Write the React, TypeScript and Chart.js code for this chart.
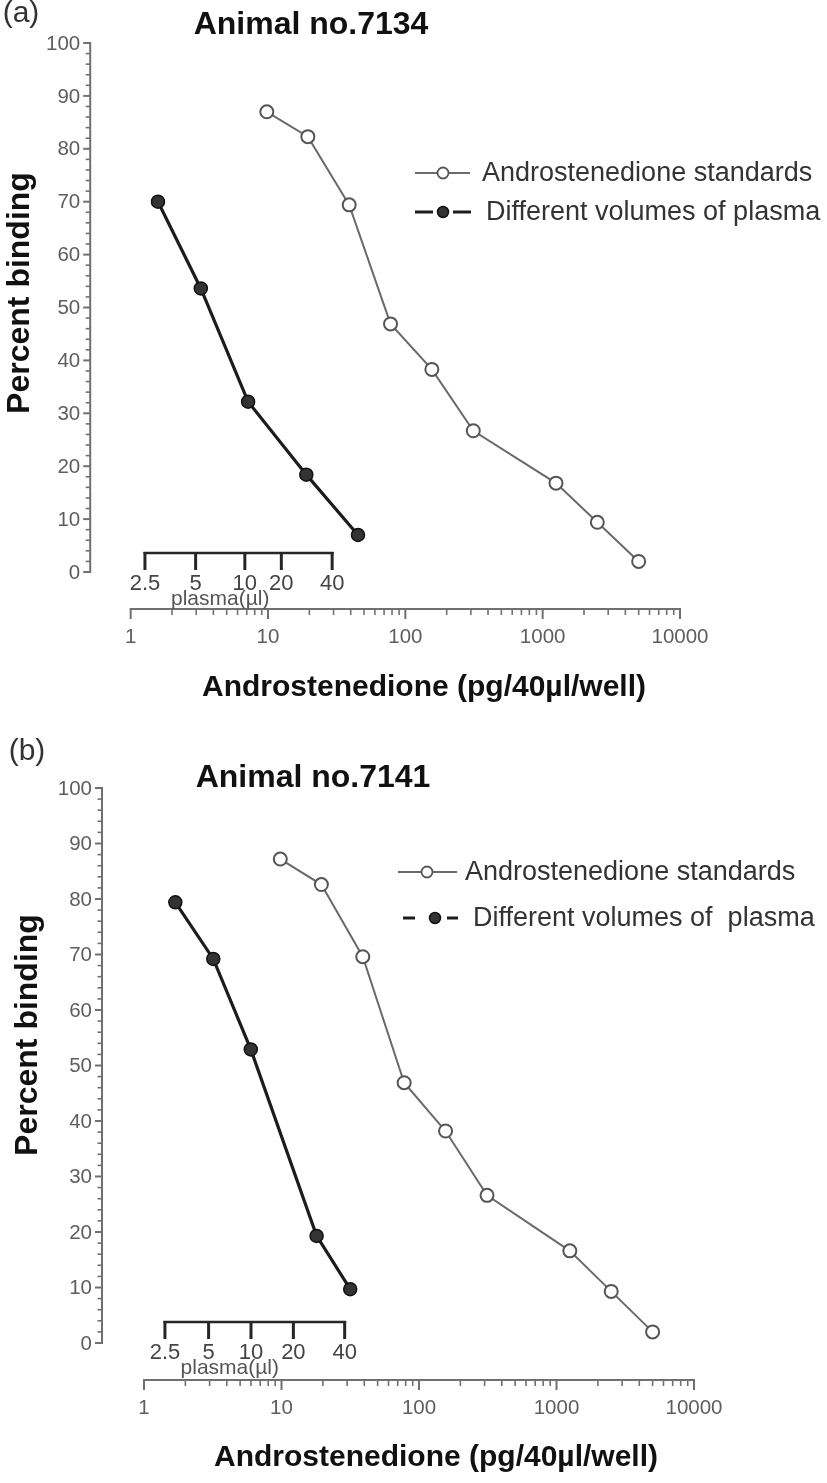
import React, { useEffect, useRef } from "react";
import { Chart, registerables } from "chart.js";

Chart.register(...registerables);

// ---------- panel (a): Animal no.7134 ----------
const standardsConcA = [9.8, 19.5, 39, 78, 156, 312.5, 1250, 2500, 5000];
const standardsBindingA = [87.0, 82.3, 69.4, 46.9, 38.3, 26.7, 16.8, 9.4, 2.0];
const plasmaConcA = [1.58, 3.24, 7.16, 19.0, 45.2];
const plasmaBindingA = [70.0, 53.6, 32.2, 18.4, 7.0];
// where the plasma-volume ticks sit on the concentration axis
const plasmaTickConcA = [1.27, 2.97, 6.78, 12.5, 29.3];

// ---------- panel (b): Animal no.7141 ----------
const standardsConcB = [9.8, 19.5, 39, 78, 156, 312.5, 1250, 2500, 5000];
const standardsBindingB = [87.2, 82.6, 69.6, 46.9, 38.2, 26.6, 16.6, 9.3, 2.0];
const plasmaConcB = [1.69, 3.19, 5.98, 18.0, 31.6];
const plasmaBindingB = [79.4, 69.2, 52.9, 19.3, 9.7];
const plasmaTickConcB = [1.42, 2.95, 6.0, 12.2, 28.8];

// ---------- shared ticks / labels ----------
const plasmaTickLabels = ["2.5", "5", "10", "20", "40"];
const yMajorTicks = [0, 10, 20, 30, 40, 50, 60, 70, 80, 90, 100];
const yMinorStep = 2;
const xMajorTicks = [1, 10, 100, 1000, 10000];
const xTickLabels = ["1", "10", "100", "1000", "10000"];
const standardsLabel = "Androstenedione standards";
const plasmaLabelA = "Different volumes of plasma";
const plasmaLabelB = "Different volumes of  plasma";
const yTitle = "Percent binding";
const xTitle = "Androstenedione (pg/40\u00b5l/well)";
const plasmaAxisTitle = "plasma(\u00b5l)";

const FONT = '"Liberation Sans", Arial, Helvetica, sans-serif';

type PanelCfg = {
  height: number;
  padding: { left: number; right: number; top: number; bottom: number };
  stdX: number[];
  stdY: number[];
  plX: number[];
  plY: number[];
  plasmaTicks: number[];
  plasmaLabel: string;
  title: string;
  tag: string;
  yAxisGap: number;
  xAxisDrop: number;
  plasmaRise: number;
  titlePos: [number, number];
  tagPos: [number, number];
  yTitlePos: [number, number];
  xTitlePos: [number, number];
  legendRows: [number, number];
  legendLine: [number, number];
  legendCircle: [number, number];
  legendSeg2: [number, number, number, number];
  legendText: [number, number];
};

const panelA: PanelCfg = {
  height: 720,
  padding: { left: 130.7, right: 147, top: 43, bottom: 148 },
  stdX: standardsConcA,
  stdY: standardsBindingA,
  plX: plasmaConcA,
  plY: plasmaBindingA,
  plasmaTicks: plasmaTickConcA,
  plasmaLabel: plasmaLabelA,
  title: "Animal no.7134",
  tag: "(a)",
  yAxisGap: 40.5,
  xAxisDrop: 37,
  plasmaRise: 19,
  titlePos: [311, 25],
  tagPos: [21, 14],
  yTitlePos: [20, 293],
  xTitlePos: [424, 688],
  legendRows: [173, 212],
  legendLine: [415, 470],
  legendCircle: [443, 443],
  legendSeg2: [415, 433, 453, 471],
  legendText: [482, 486],
};

const panelB: PanelCfg = {
  height: 763,
  padding: { left: 144, right: 133, top: 68, bottom: 140 },
  stdX: standardsConcB,
  stdY: standardsBindingB,
  plX: plasmaConcB,
  plY: plasmaBindingB,
  plasmaTicks: plasmaTickConcB,
  plasmaLabel: plasmaLabelB,
  title: "Animal no.7141",
  tag: "(b)",
  yAxisGap: 42,
  xAxisDrop: 37,
  plasmaRise: 21,
  titlePos: [313, 58],
  tagPos: [27, 32],
  yTitlePos: [28, 315],
  xTitlePos: [436, 738],
  legendRows: [152, 198],
  legendLine: [398, 457],
  legendCircle: [427, 435],
  legendSeg2: [403, 415, 447, 458],
  legendText: [465, 473],
};

function makeDecor(p: PanelCfg) {
  return {
    id: "panelDecor",
    beforeDatasetsDraw(chart: any) {
      const ctx = chart.ctx as CanvasRenderingContext2D;
      const xs = chart.scales.x;
      const ys = chart.scales.y;
      const area = chart.chartArea;
      ctx.save();
      ctx.lineCap = "butt";

      // ---- y axis (detached, left) ----
      const ax = area.left - p.yAxisGap;
      const yTop = ys.getPixelForValue(100);
      const yBot = ys.getPixelForValue(0);
      ctx.strokeStyle = "#707070";
      ctx.lineWidth = 2;
      ctx.beginPath();
      ctx.moveTo(ax, yTop - 1);
      ctx.lineTo(ax, yBot + 1);
      ctx.stroke();
      for (let v = 0; v <= 100; v += yMinorStep) {
        const y = ys.getPixelForValue(v);
        const major = yMajorTicks.includes(v);
        ctx.lineWidth = major ? 2 : 1.6;
        ctx.beginPath();
        ctx.moveTo(ax - (major ? 7 : 4.5), y);
        ctx.lineTo(ax, y);
        ctx.stroke();
      }
      ctx.fillStyle = "#5e5e5e";
      ctx.font = `20.5px ${FONT}`;
      ctx.textAlign = "right";
      ctx.textBaseline = "middle";
      yMajorTicks.forEach((v) => {
        ctx.fillText(String(v), ax - 10, ys.getPixelForValue(v) + 1);
      });

      // ---- x axis (detached, bottom, log) ----
      const by = area.bottom + p.xAxisDrop;
      ctx.lineWidth = 2;
      ctx.beginPath();
      ctx.moveTo(xs.getPixelForValue(xMajorTicks[0]) - 1, by);
      ctx.lineTo(xs.getPixelForValue(xMajorTicks[xMajorTicks.length - 1]) + 1, by);
      ctx.stroke();
      for (let i = 0; i < xMajorTicks.length; i++) {
        const dec = xMajorTicks[i];
        const xp = xs.getPixelForValue(dec);
        ctx.lineWidth = 2;
        ctx.beginPath();
        ctx.moveTo(xp, by);
        ctx.lineTo(xp, by + 10);
        ctx.stroke();
        if (i < xMajorTicks.length - 1) {
          for (let m = 2; m <= 9; m++) {
            const mx = xs.getPixelForValue(dec * m);
            ctx.lineWidth = 1.6;
            ctx.beginPath();
            ctx.moveTo(mx, by);
            ctx.lineTo(mx, by + 6);
            ctx.stroke();
          }
        }
      }
      ctx.textAlign = "center";
      xMajorTicks.forEach((v, i) => {
        ctx.fillText(xTickLabels[i], xs.getPixelForValue(v), by + 28);
      });

      // ---- plasma volume axis ----
      const py = area.bottom - p.plasmaRise;
      const tx = p.plasmaTicks.map((v) => xs.getPixelForValue(v));
      ctx.strokeStyle = "#262626";
      ctx.lineWidth = 2.6;
      ctx.beginPath();
      ctx.moveTo(tx[0] - 1.5, py);
      ctx.lineTo(tx[tx.length - 1] + 1.5, py);
      ctx.stroke();
      ctx.lineWidth = 3;
      tx.forEach((x) => {
        ctx.beginPath();
        ctx.moveTo(x, py - 1);
        ctx.lineTo(x, py + 17);
        ctx.stroke();
      });
      ctx.fillStyle = "#444";
      ctx.font = `22px ${FONT}`;
      ctx.textAlign = "center";
      tx.forEach((x, i) => ctx.fillText(plasmaTickLabels[i], x, py + 31));
      ctx.fillStyle = "#555";
      ctx.font = `21px ${FONT}`;
      ctx.fillText(plasmaAxisTitle, (tx[1] + tx[2]) / 2, py + 46);
      ctx.restore();
    },
    afterDraw(chart: any) {
      const ctx = chart.ctx as CanvasRenderingContext2D;
      const ds = chart.data.datasets;
      ctx.save();
      ctx.textBaseline = "middle";

      // ---- legend ----
      const [r1, r2] = p.legendRows;
      ctx.strokeStyle = ds[0].borderColor;
      ctx.lineWidth = 2;
      ctx.beginPath();
      ctx.moveTo(p.legendLine[0], r1);
      ctx.lineTo(p.legendLine[1], r1);
      ctx.stroke();
      ctx.fillStyle = ds[0].pointBackgroundColor;
      ctx.strokeStyle = ds[0].pointBorderColor;
      ctx.lineWidth = 1.8;
      ctx.beginPath();
      ctx.arc(p.legendCircle[0], r1, 5.5, 0, Math.PI * 2);
      ctx.fill();
      ctx.stroke();

      ctx.strokeStyle = ds[1].borderColor;
      ctx.lineWidth = 3.2;
      const s = p.legendSeg2;
      ctx.beginPath();
      ctx.moveTo(s[0], r2);
      ctx.lineTo(s[1], r2);
      ctx.moveTo(s[2], r2);
      ctx.lineTo(s[3], r2);
      ctx.stroke();
      ctx.fillStyle = ds[1].pointBackgroundColor;
      ctx.strokeStyle = ds[1].pointBorderColor;
      ctx.lineWidth = 1.5;
      ctx.beginPath();
      ctx.arc(p.legendCircle[1], r2, 5.5, 0, Math.PI * 2);
      ctx.fill();
      ctx.stroke();

      ctx.fillStyle = "#333";
      ctx.font = `27px ${FONT}`;
      ctx.textAlign = "left";
      ctx.fillText(ds[0].label, p.legendText[0], r1 + 1);
      ctx.fillText(ds[1].label, p.legendText[1], r2 + 1);

      // ---- titles ----
      ctx.fillStyle = "#111";
      ctx.textAlign = "center";
      ctx.font = `bold 32px ${FONT}`;
      ctx.fillText(p.title, p.titlePos[0], p.titlePos[1]);
      ctx.font = `bold 30px ${FONT}`;
      ctx.fillText(xTitle, p.xTitlePos[0], p.xTitlePos[1]);

      ctx.save();
      ctx.translate(p.yTitlePos[0], p.yTitlePos[1]);
      ctx.rotate(-Math.PI / 2);
      ctx.font = `bold 32px ${FONT}`;
      ctx.fillText(yTitle, 0, 0);
      ctx.restore();

      ctx.fillStyle = "#333";
      ctx.font = `30px ${FONT}`;
      ctx.fillText(p.tag, p.tagPos[0], p.tagPos[1]);
      ctx.restore();
    },
  };
}

function Panel({ cfg }: { cfg: PanelCfg }) {
  const ref = useRef<HTMLCanvasElement>(null);
  useEffect(() => {
    if (!ref.current) return;
    const chart = new Chart(ref.current, {
      type: "scatter",
      data: {
        datasets: [
          {
            label: standardsLabel,
            data: cfg.stdX.map((x, i) => ({ x, y: cfg.stdY[i] })),
            showLine: true,
            borderColor: "#6a6a6a",
            borderWidth: 2,
            pointRadius: 6.5,
            pointBackgroundColor: "#ffffff",
            pointBorderColor: "#555555",
            pointBorderWidth: 2,
          },
          {
            label: cfg.plasmaLabel,
            data: cfg.plX.map((x, i) => ({ x, y: cfg.plY[i] })),
            showLine: true,
            borderColor: "#1c1c1c",
            borderWidth: 3.2,
            pointRadius: 6.5,
            pointBackgroundColor: "#333333",
            pointBorderColor: "#111111",
            pointBorderWidth: 1.5,
          },
        ],
      },
      options: {
        animation: false,
        responsive: false,
        devicePixelRatio: 1,
        layout: { padding: cfg.padding },
        scales: {
          x: { type: "logarithmic", min: 1, max: 10000, display: false },
          y: { type: "linear", min: 0, max: 100, display: false },
        },
        plugins: {
          legend: { display: false },
          tooltip: { enabled: false },
        },
      },
      plugins: [makeDecor(cfg)],
    } as any);
    return () => chart.destroy();
  }, [cfg]);
  return (
    <canvas
      ref={ref}
      width={827}
      height={cfg.height}
      style={{ display: "block", width: 827, height: cfg.height }}
    />
  );
}

export default function App() {
  return (
    <div
      style={{
        position: "absolute",
        left: 0,
        top: 0,
        width: 827,
        height: 1483,
        background: "#ffffff",
      }}
    >
      <Panel cfg={panelA} />
      <Panel cfg={panelB} />
    </div>
  );
}
